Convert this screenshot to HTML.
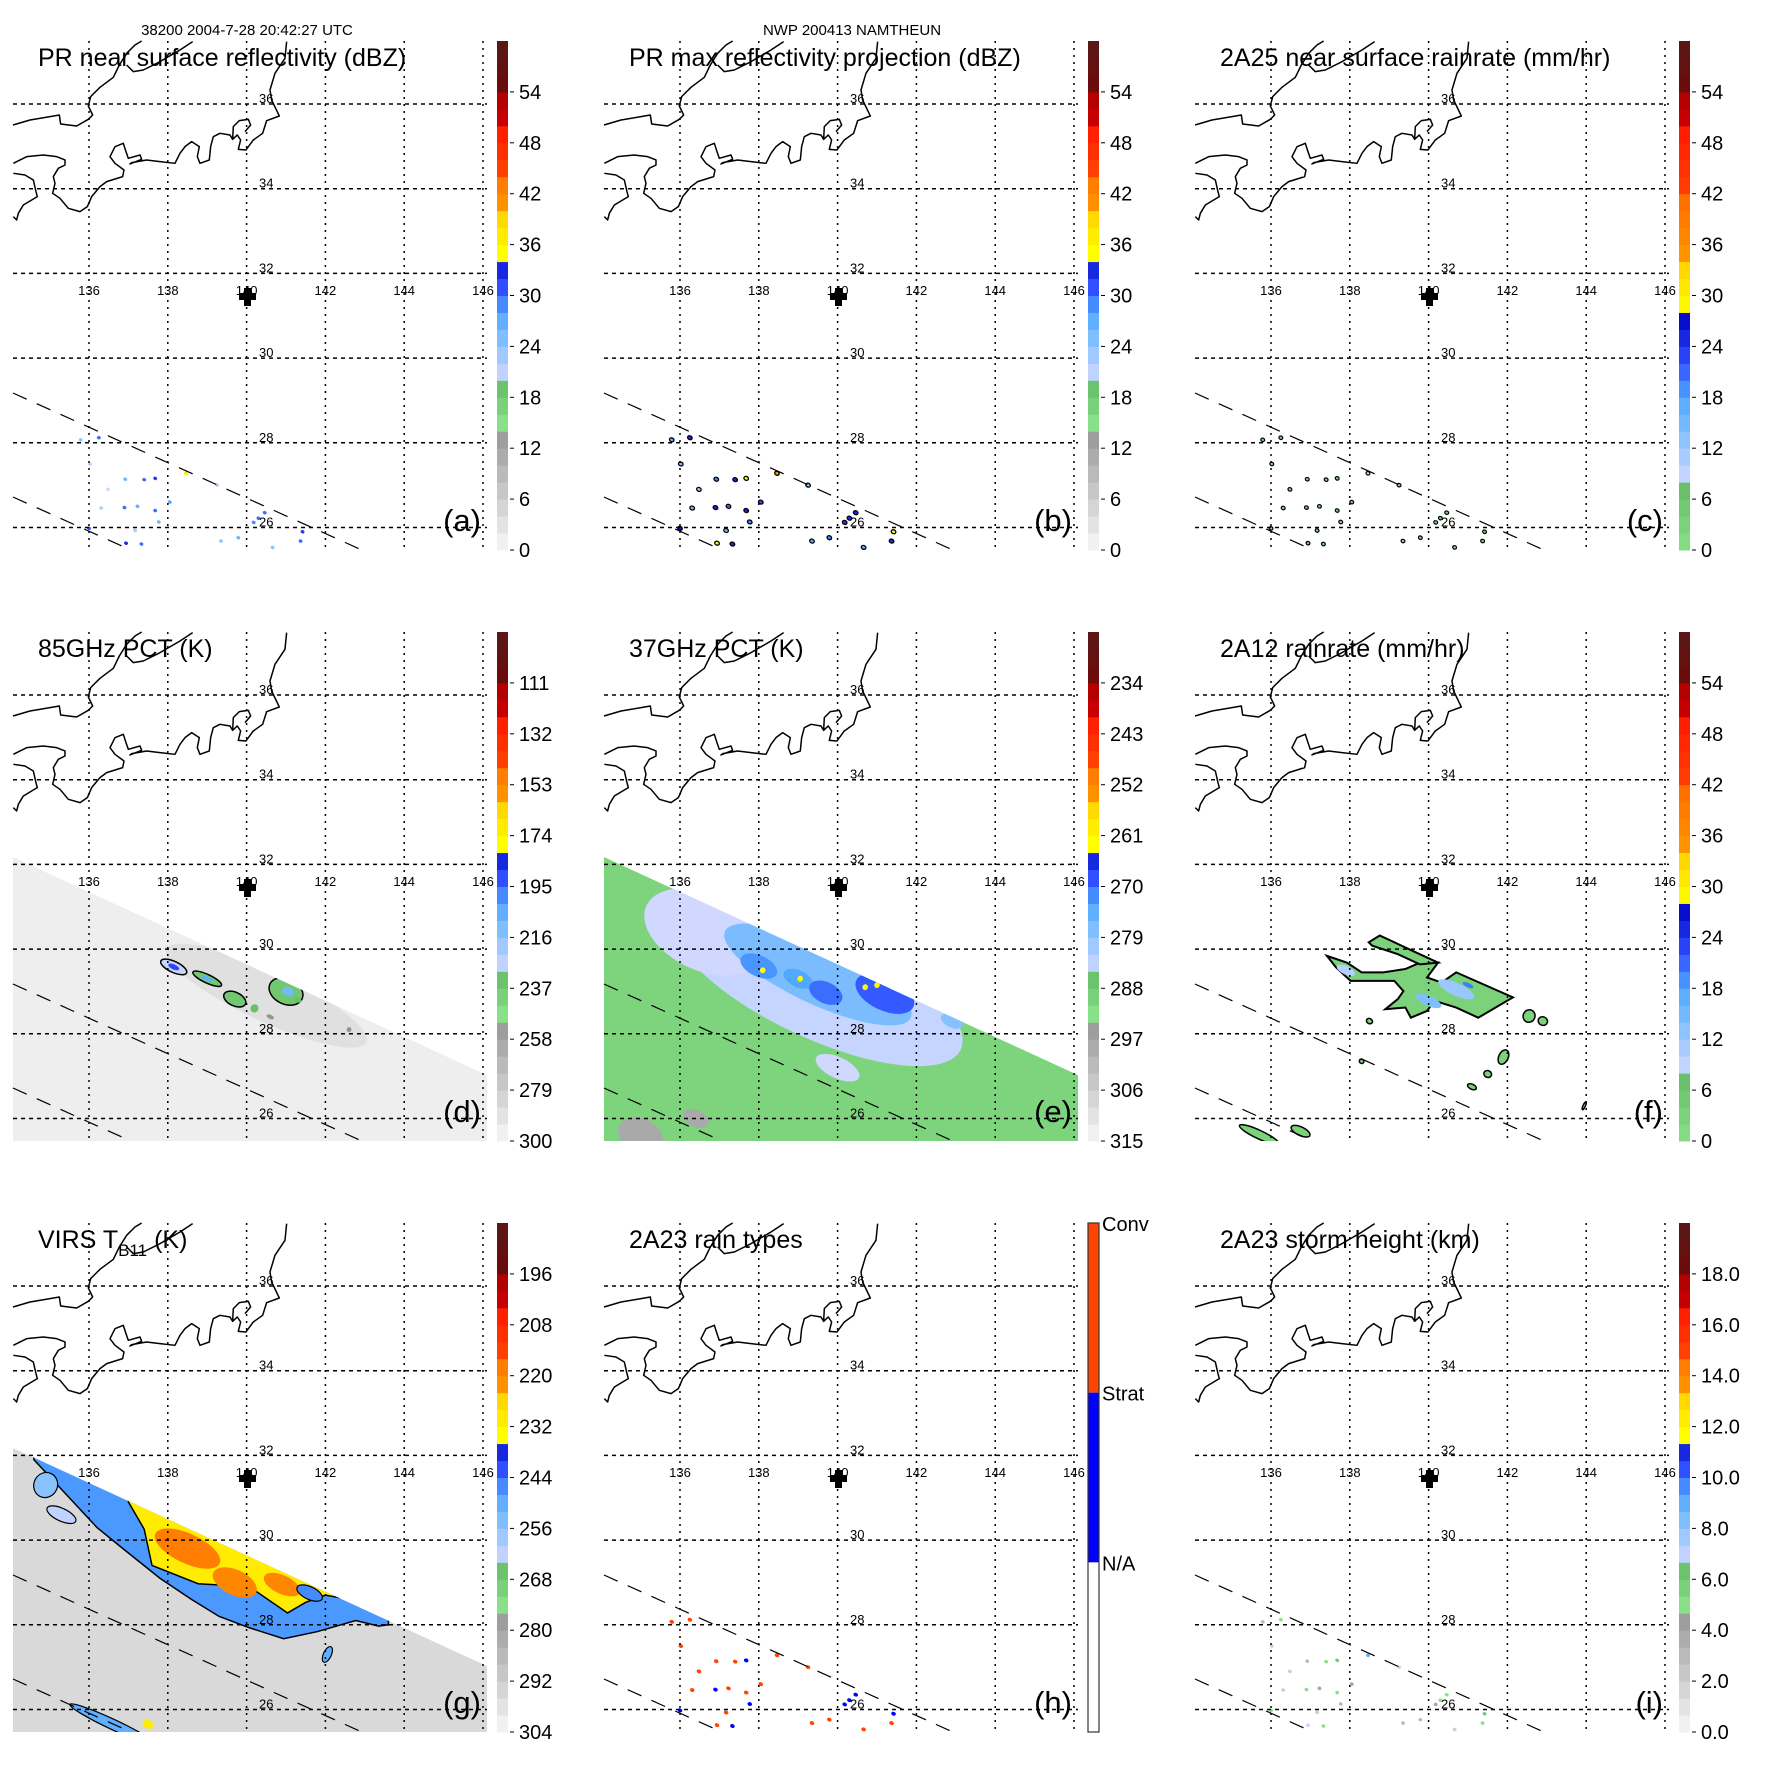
<!DOCTYPE html>
<html><head><meta charset="utf-8"><style>
html,body{margin:0;padding:0;background:#fff}
svg{display:block}
text{font-family:"Liberation Sans",Arial,sans-serif}
</style></head><body>
<svg id="fig" xmlns="http://www.w3.org/2000/svg" width="1771" height="1771" viewBox="0 0 1771 1771">
<rect x="0" y="0" width="1771" height="1771" fill="#fff"/>
<text x="247" y="35" font-size="15" text-anchor="middle">38200 2004-7-28 20:42:27 UTC</text>
<text x="852" y="35" font-size="15" text-anchor="middle">NWP 200413 NAMTHEUN</text>
</svg>
<script>
// ---------- data ----------
const lonTicks=[136,138,140,142,144,146];
const latTicks=[26,28,30,32,34,36];
const dbzLabels=["0","6","12","18","24","30","36","42","48","54"];
const pct85Labels=["300","279","258","237","216","195","174","153","132","111"];
const pct37Labels=["315","306","297","288","279","270","261","252","243","234"];
const virsLabels=["304","292","280","268","256","244","232","220","208","196"];
const heightLabels=["0.0","2.0","4.0","6.0","8.0","10.0","12.0","14.0","16.0","18.0"];
// PR cells
const prLon=[136.25,135.79,136.02,137.4,137.68,136.92,138.46,138.05,136.9,137.23,137.68,137.77,136.0,136.94,137.33,140.18,140.3,140.46,141.42,141.37,139.79,139.35,137.17,139.25,136.48,136.31,140.66];
const prLat=[28.12,28.07,27.5,27.13,27.16,27.14,27.28,26.6,26.47,26.5,26.4,26.13,25.98,25.63,25.61,26.12,26.22,26.35,25.9,25.68,25.76,25.68,25.93,27.0,26.9,26.46,25.53];
const prType=[1,1,1,1,2,1,1,1,2,1,1,2,2,1,2,2,2,2,2,1,1,1,1,1,1,1,1];
const prDbz=[30,24,22,30,32,26,37,28,30,27,30,26,31,33,30,29,30,30,32,30,26,24,22,22,20,22,24];
const prRain=[2,1,1,3,4,1,8,2,3,2,3,1,3,5,3,2,3,3,4,3,1,1,1,1,1,1,1];
const prHeight=[5,3,2,5,6,3,9,4,5,4,5,3,5,7,5,4,5,5,6,5,3,3,2,2,2,2,2];
// 85 GHz
const d85Lon=[140.5,138.15,139.0,139.7,140.2,141.0,138.15,139.0,141.05,141.3,142.6,140.6];
const d85Lat=[28.9,29.58,29.3,28.82,28.6,29.0,29.58,29.3,29.0,28.8,28.1,28.4];
const d85Rx=[2.8,0.36,0.4,0.3,0.1,0.45,0.15,0.15,0.15,0.1,0.06,0.1];
const d85Ry=[0.6,0.13,0.1,0.16,0.1,0.3,0.06,0.05,0.1,0.06,0.06,0.05];
const d85Val=[288,228,236,236,232,236,190,205,210,232,250,250];
// 37 GHz
const e37Lon=[139.5,136.6,139.5,138.0,139.0,139.7,141.2,142.9,138.1,139.05,140.7,141.0,135.0,136.4,140.0];
const e37Lat=[29.2,30.4,29.4,29.6,29.3,28.97,28.95,28.3,29.5,29.3,29.1,29.15,25.6,26.0,27.2];
const e37Rx=[4.0,1.6,2.6,0.5,0.4,0.45,0.8,0.3,0.07,0.07,0.07,0.07,0.6,0.35,0.6];
const e37Ry=[1.3,0.9,0.7,0.25,0.2,0.25,0.4,0.15,0.07,0.07,0.07,0.07,0.4,0.2,0.25];
const e37Val=[284,285,277,272,273,270,269,278,262,262,262,262,298,298,285];
// 2A12
const fMainLon=[137.42,137.93,138.30,138.85,139.41,139.78,140.24,139.96,140.33,140.70,142.14,141.26,140.70,140.15,139.96,139.55,139.41,138.90,139.22,139.36,139.13,138.67,138.02,137.65];
const fMainLat=[29.84,29.68,29.45,29.45,29.53,29.68,29.68,29.33,29.21,29.45,28.86,28.38,28.62,28.78,28.54,28.38,28.62,28.58,28.82,29.01,29.25,29.25,29.25,29.57];
const fArmLon=[138.48,138.76,139.04,139.59,140.24,139.78,139.22,138.57];
const fArmLat=[30.16,30.32,30.20,29.96,29.68,29.64,29.88,30.08];
const fCellLon=[140.7,140.0,137.9,141.0,142.55,142.9,141.9,141.5,141.1,138.5,138.3,143.95,135.7,136.75];
const fCellLat=[29.05,28.78,29.5,29.15,28.42,28.3,27.45,27.05,26.75,28.3,27.35,26.3,25.62,25.7];
const fCellRx=[0.5,0.35,0.25,0.15,0.15,0.12,0.12,0.1,0.12,0.08,0.06,0.03,0.55,0.26];
const fCellRy=[0.15,0.12,0.1,0.05,0.15,0.1,0.18,0.08,0.06,0.06,0.05,0.1,0.1,0.1];
const fCellVal=[12,14,10,20,3,3,3,3,3,3,3,3,3,3];
// VIRS
const gBlueLon=[134.6,135.5,136.2,136.94,137.8,138.6,139.3,140.07,140.94,141.8,142.77,143.35,143.6,143.6,134.6];
const gBlueLat=[31.9,31.0,30.3,29.74,29.1,28.6,28.2,27.93,27.67,27.84,28.1,27.97,28.0,33,33];
const gYelLon=[137.0,137.4,137.6,138.77,140.07,141.04,141.5,142.0,142.6,142.6,137.0];
const gYelLat=[30.9,30.26,29.4,28.97,28.9,28.28,28.53,28.7,28.6,33,33];
const gCellLon=[138.5,139.7,140.9,138.6,139.6,141.6,136.6,137.5,142.05,134.9,135.3];
const gCellLat=[29.8,29.0,28.95,30.45,29.95,28.75,25.65,25.65,27.3,31.3,30.6];
const gCellRx=[0.9,0.6,0.5,0.4,0.3,0.35,1.2,0.15,0.1,0.3,0.4];
const gCellRy=[0.35,0.3,0.22,0.12,0.1,0.15,0.12,0.1,0.2,0.3,0.15];
const gCellVal=[218,220,220,246,246,246,250,230,250,255,262];

// ---------- helpers ----------
const NS="http://www.w3.org/2000/svg";
const svg=document.getElementById('fig');
function mk(tag,attrs,parent){const e=document.createElementNS(NS,tag);for(const k in attrs)e.setAttribute(k,attrs[k]);if(parent)parent.appendChild(e);return e;}
const X=lon=>89+(lon-136)*39.4;
const Y=lat=>104+(36-lat)*42.35;
const MAPL=13,MAPR=487,MAPT=41,MAPB=550,CBX=497,CBW=11;
const cbY=v=>MAPB-v/60*(MAPB-MAPT);
function hex(c){return [parseInt(c.slice(1,3),16),parseInt(c.slice(3,5),16),parseInt(c.slice(5,7),16)];}
function interp(stops,v){
  if(v<=stops[0][0])return stops[0][1];
  for(let i=0;i<stops.length-1;i++){const a=stops[i],b=stops[i+1];
    if(v>=a[0]&&v<b[0]){const t=(v-a[0])/(b[0]-a[0]);const ca=hex(a[1]),cb=hex(b[1]);
      return 'rgb('+ca.map((x,j)=>Math.round(x+(cb[j]-x)*t)).join(',')+')';}}
  return stops[stops.length-1][1];}
const stopsA=[[0,'#f8f8f8'],[15,'#909090'],[15,'#88e088'],[20,'#66bb66'],[20,'#d0d8ff'],[25,'#80bfff'],[28,'#50a8ff'],[31,'#3050ff'],[35,'#0000c0'],[35,'#ffff00'],[40,'#ffd000'],[40,'#ff9900'],[45,'#ff6a00'],[45,'#ff4000'],[50,'#ff1800'],[50,'#d00000'],[55,'#a00000'],[55,'#6a0c0c'],[60,'#581818']];
const stopsC=[[0,'#88e088'],[8,'#66bb66'],[8,'#d0d8ff'],[14,'#80bfff'],[18,'#50a8ff'],[22,'#3050ff'],[28,'#0000c0'],[28,'#ffff00'],[34,'#ffd000'],[34,'#ff9900'],[42,'#ff6a00'],[42,'#ff4000'],[50,'#ff1800'],[50,'#d00000'],[55,'#a00000'],[55,'#6a0c0c'],[60,'#581818']];
const cA=v=>interp(stopsA,v), cC=v=>interp(stopsC,v);
const c85=T=>cA((300-T)/3.5), c37=T=>cA((315-T)/1.5), cV=T=>cA((304-T)/2), cH=h=>cA(h*3);

const coast=["M39,375 L90,360 150,350 178,345 182,372 230,378 265,358 278,345 265,318 272,290 300,262 340,232 358,195 380,160 405,135 425,123",
"M380,195 L400,215 430,210 480,185 540,150 578,125",
"M860,125 L855,175 825,220 810,270 815,300 838,348 800,362 788,400 760,420 738,450 715,448 722,420 712,405 698,418 700,380 718,362 745,358 752,375 735,395 M698,418 L690,405 660,400 640,410 632,440 628,480 600,490 592,470 598,440 575,425 555,440 540,460 525,490 480,485 440,480 395,488 390,492 425,478 420,465 385,475 378,455 370,430 345,440 330,470 345,490 372,510 368,530 320,545 300,560 275,590 262,620 240,635 205,625 180,595 158,580 165,550 160,530 175,505 195,495 195,480 170,470 130,465 80,470 40,490",
"M40,520 L75,525 100,540 108,575 112,590 95,600 70,615 55,640 50,660 40,650"];

const panels=[
 {id:'a',title:'PR near surface reflectivity (dBZ)',labels:dbzLabels,cb:'A'},
 {id:'b',title:'PR max reflectivity projection (dBZ)',labels:dbzLabels,cb:'A'},
 {id:'c',title:'2A25 near surface rainrate (mm/hr)',labels:dbzLabels,cb:'C'},
 {id:'d',title:'85GHz PCT (K)',labels:pct85Labels,cb:'A'},
 {id:'e',title:'37GHz PCT (K)',labels:pct37Labels,cb:'A'},
 {id:'f',title:'2A12 rainrate (mm/hr)',labels:dbzLabels,cb:'C'},
 {id:'g',title:'VIRS',labels:virsLabels,cb:'A'},
 {id:'h',title:'2A23 rain types',labels:null,cb:'H'},
 {id:'i',title:'2A23 storm height (km)',labels:heightLabels,cb:'A'}];

const swathPts="13,266 487,484 487,550 13,550";
function ell(g,lon,lat,rx,ry,fill,stroke,name){
  const e=mk('ellipse',{cx:X(lon),cy:Y(lat),rx:rx*39.4,ry:ry*42.35,fill:fill,transform:'rotate(25 '+X(lon)+' '+Y(lat)+')'},g);
  if(stroke){e.setAttribute('stroke','#000');e.setAttribute('stroke-width',stroke);}
  
  
  return e;}
function poly(g,lons,lats,fill,stroke,name){
  const p=mk('polygon',{points:lons.map((l,i)=>X(l)+','+Y(lats[i])).join(' '),fill:fill},g);
  if(stroke){p.setAttribute('stroke','#000');p.setAttribute('stroke-width',stroke);}
  
  
  return p;}

panels.forEach((P,idx)=>{
  const ox=(idx%3)*591, oy=Math.floor(idx/3)*591;
  const g=mk('g',{transform:'translate('+ox+','+oy+')'},svg);
  
  
  const cp=mk('clipPath',{id:'clip'+P.id},g);
  mk('rect',{x:MAPL,y:MAPT,width:MAPR-MAPL,height:MAPB-MAPT},cp);
  const cs=mk('clipPath',{id:'sw'+P.id},g);
  mk('polygon',{points:swathPts},cs);
  const data=mk('g',{'clip-path':'url(#clip'+P.id+')'},g);
  
  
  const sw=mk('g',{'clip-path':'url(#sw'+P.id+')'},data);
  
  

  if(P.id==='d'){
    const bg=mk('polygon',{points:swathPts,fill:c85(295)},sw);
    
    
    d85Lon.forEach((l,i)=>ell(sw,l,d85Lat[i],d85Rx[i],d85Ry[i],c85(d85Val[i]),(d85Val[i]<240&&d85Rx[i]>0.2)?1.5:0,'pct85-cell'));
  }
  if(P.id==='e'){
    const bg=mk('polygon',{points:swathPts,fill:c37(290)},sw);
    
    
    e37Lon.forEach((l,i)=>ell(sw,l,e37Lat[i],e37Rx[i],e37Ry[i],c37(e37Val[i]),0,'pct37-cell'));
  }
  if(P.id==='g'){
    const bg=mk('polygon',{points:swathPts,fill:cV(295)},sw);
    
    
    poly(sw,gBlueLon,gBlueLat,cV(247),1.5,'virs-cold-cloud');
    poly(sw,gYelLon,gYelLat,cV(230),1.5,'virs-very-cold-cloud');
    gCellLon.forEach((l,i)=>ell(sw,l,gCellLat[i],gCellRx[i],gCellRy[i],cV(gCellVal[i]),gCellVal[i]>240?1.2:0,'virs-cell'));
  }
  if(P.id==='f'){
    poly(data,fMainLon,fMainLat,cC(3),2,'rain-area-main');
    poly(data,fArmLon,fArmLat,cC(3),2,'rain-area-arm');
    fCellLon.forEach((l,i)=>ell(data,l,fCellLat[i],fCellRx[i],fCellRy[i],cC(fCellVal[i]),fCellVal[i]<6?1.5:0,'rain-cell'));
  }
  if('abchi'.includes(P.id)){
    prLon.forEach((l,i)=>{
      let fill,stroke=0,rx=0.05,ry=0.04;
      if(P.id==='a'){fill=cA(prDbz[i]);}
      if(P.id==='b'){fill=cA(prDbz[i]+3);stroke=1.3;rx=0.06;ry=0.045;}
      if(P.id==='c'){fill=cC(prRain[i]);stroke=1.2;rx=0.05;ry=0.04;}
      if(P.id==='h'){fill=prType[i]===1?'#ff4500':'#0000ff';rx=0.06;ry=0.045;}
      if(P.id==='i'){fill=cH(prHeight[i]);}
      ell(data,l,prLat[i],rx,ry,fill,stroke,'pr-cell');
    });
  }
  // grid
  lonTicks.forEach(t=>{const l=mk('line',{x1:X(t),x2:X(t),y1:MAPT,y2:MAPB,stroke:'#000','stroke-width':1.5,'stroke-dasharray':'2 5'},g);
    
    
    const tx=mk('text',{x:X(t),y:295,'font-size':13,'text-anchor':'middle'},g);tx.textContent=t;
    
    });
  latTicks.forEach(t=>{const l=mk('line',{x1:MAPL,x2:MAPR,y1:Y(t),y2:Y(t),stroke:'#000','stroke-width':1.5,'stroke-dasharray':'4 4'},g);
    
    
    const tx=mk('text',{x:259,y:Y(t)-1,'font-size':13},g);tx.textContent=t;
    
    });
  // swath edges
  [393,497].forEach((y0,k)=>{const l=mk('line',{x1:MAPL,y1:y0,x2:MAPL+(MAPB-y0)/0.45,y2:MAPB,stroke:'#000','stroke-width':1.2,'stroke-dasharray':'15 11'},g);
    
    });
  // coast
  const cg=mk('g',{transform:'scale(0.3333)',fill:'none',stroke:'#000','stroke-width':4.5,'stroke-linejoin':'round'},g);
  
  
  coast.forEach(d=>mk('path',{d:d},cg));
  // storm center marker
  const pm=mk('path',{d:'M244,288 h7 v5 h5 v7 h-5 v6 h-7 v-6 h-5 v-7 h5 z',fill:'#000'},g);
  
  
  // title
  const tt=mk('text',{x:38,y:66,'font-size':25},g);
  if(P.id==='g'){tt.innerHTML='VIRS T<tspan font-size="17" dy="8">B11</tspan><tspan dy="-8"> (K)</tspan>';}
  else tt.textContent=P.title;
  
  
  const pl=mk('text',{x:481,y:531,'font-size':31,'text-anchor':'end'},g);pl.textContent='('+P.id+')';
  
  
  // colorbar
  const cb=mk('g',{},g);
  
  
  if(P.cb==='H'){
    const h3=(MAPB-MAPT)/3;
    mk('rect',{x:CBX,y:MAPT,width:CBW,height:h3,fill:'#ff4500'},cb);
    mk('rect',{x:CBX,y:MAPT+h3,width:CBW,height:h3,fill:'#0000ff'},cb);
    mk('rect',{x:CBX,y:MAPT,width:CBW,height:MAPB-MAPT,fill:'none',stroke:'#333','stroke-width':1.2},cb);
    [['Conv',MAPT],['Strat',MAPT+h3],['N/A',MAPT+2*h3]].forEach(([s,y])=>{const t=mk('text',{x:CBX+CBW+3,y:y+8,'font-size':20},cb);t.textContent=s;
      
      });
  } else {
    const fn=P.cb==='C'?cC:cA;
    for(let v=0;v<60;v+=2){mk('rect',{x:CBX,y:cbY(v+2),width:CBW,height:cbY(v)-cbY(v+2)+0.5,fill:fn(v+1)},cb);}
    P.labels.forEach((s,i)=>{const y=cbY(i*6);
      mk('line',{x1:CBX+CBW+2,x2:CBX+CBW+6,y1:y,y2:y,stroke:'#000','stroke-width':1},cb);
      const t=mk('text',{x:CBX+CBW+11,y:y+7,'font-size':20},cb);t.textContent=s;
      
      });
  }
});
</script>
</body></html>
